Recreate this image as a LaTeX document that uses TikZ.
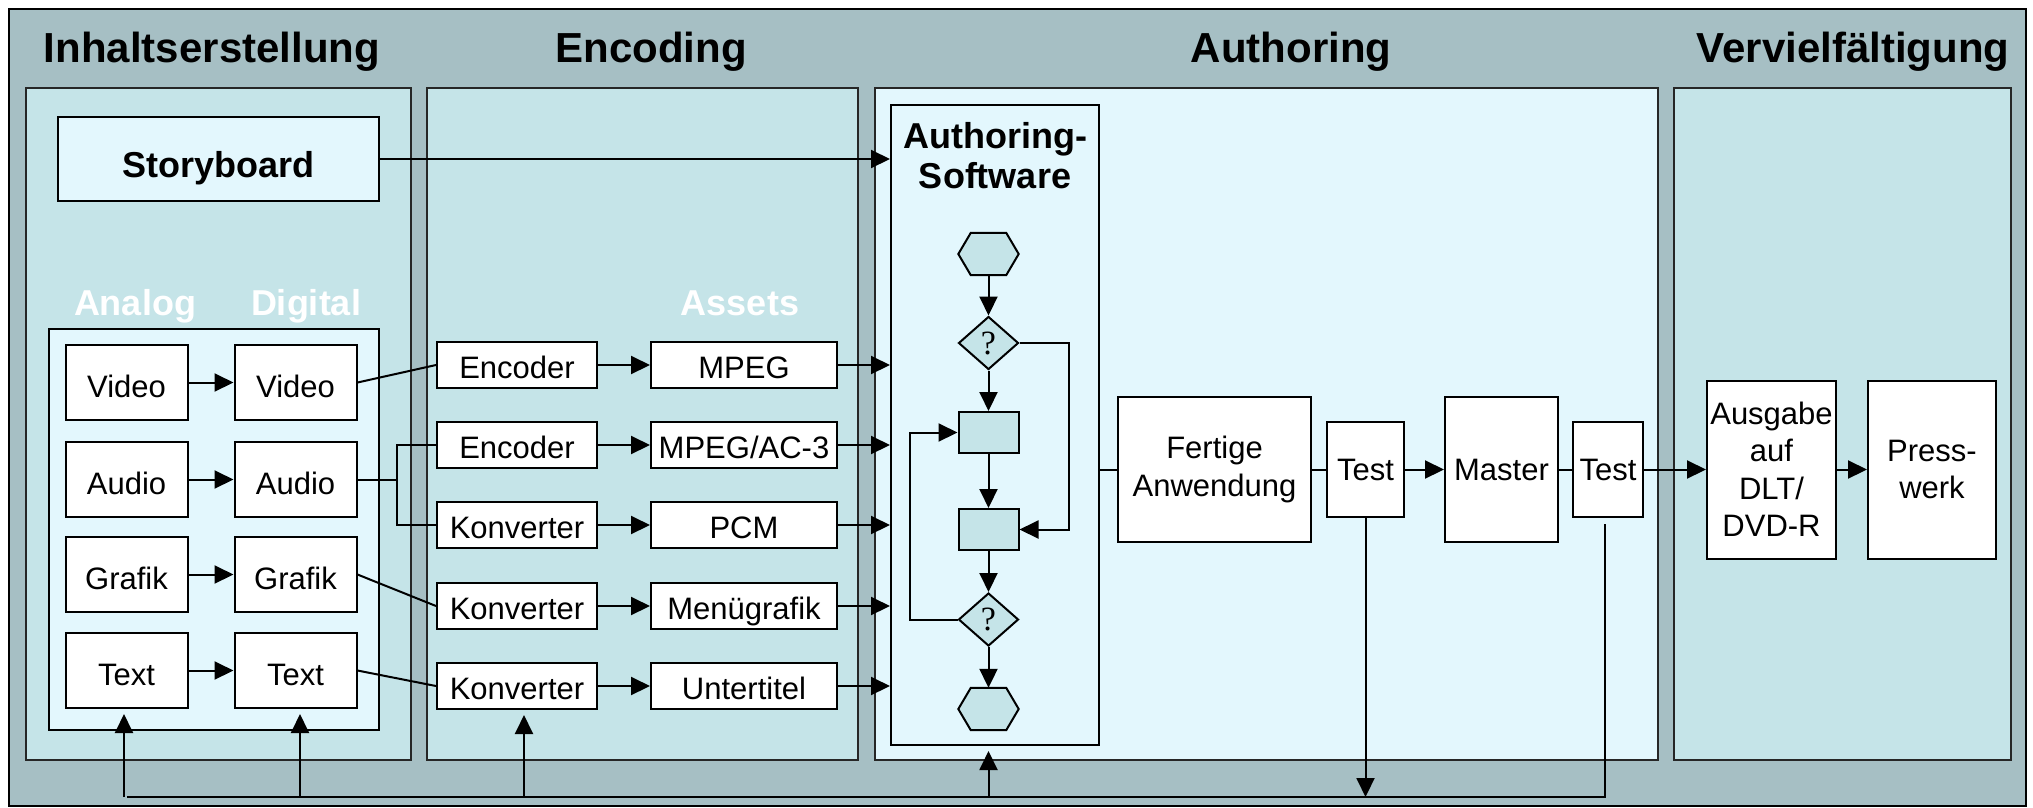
\documentclass[tikz,border=0pt]{standalone}
\usepackage{fontspec}
\setmainfont{Liberation Sans}
\newfontfamily\qfont{Liberation Serif}
\usetikzlibrary{arrows.meta,shapes.geometric,calc}
\definecolor{outerbg}{HTML}{A6BFC4}
\definecolor{panelbg}{HTML}{C5E4E8}
\definecolor{lightbg}{HTML}{E3F7FD}
\begin{document}
\begin{tikzpicture}[x=1pt,y=-1pt,
 ln/.style={line width=2pt, draw=black},
 arr/.style={ln, -{Triangle[length=19pt,width=18pt]}},
 box/.style={draw=black, line width=2pt, fill=white, inner sep=0pt, align=center, font=\fontsize{31}{37.5}\selectfont},
 one/.style={text height=22.2pt, text depth=0pt},
 flowbox/.style={draw=black, line width=2pt, fill=panelbg, inner sep=0pt, minimum width=60pt, minimum height=41pt},
 dia/.style={diamond, draw=black, line width=2pt, fill=panelbg, inner sep=0pt, minimum width=60pt, minimum height=53pt, font=\qfont\fontsize{34}{34}\selectfont},
 hexc/.style={inner sep=0pt, minimum width=60pt, minimum height=42pt},
 hexpath/.style={draw=black, line width=2pt, fill=panelbg, line join=miter},
 title/.style={font=\bfseries\fontsize{42}{50}\selectfont, anchor=base, inner sep=0pt},
 sub/.style={font=\bfseries\fontsize{36}{40}\selectfont, inner sep=0pt, align=center},
 panel/.style={draw=black!85, line width=2pt, fill=panelbg},
 lbl/.style={font=\fontsize{31}{37.5}\selectfont, inner sep=0pt, anchor=base},
 ana/.style={box, one, minimum width=122pt, minimum height=75pt},
 enc/.style={box, one, minimum width=160pt, minimum height=46pt},
 ast/.style={box, one, minimum width=186pt, minimum height=46pt},
]
\useasboundingbox (0,0) rectangle (2033,807);
\fill[white] (0,0) rectangle (2033,807);
\draw[ln, fill=outerbg] (9,9) rectangle (2026,806);

% titles
\node[title] (tInh) at (212,62) {Inhaltserstellung};
\node[title] (tEnc) at (651,62) {Encoding};
\node[title] (tAut) at (1291,62) {Authoring};
\node[title] (tVer) at (1853,62) {Vervielfältigung};

% panels
\draw[panel] (26,88) rectangle (411,760);
\draw[panel] (427,88) rectangle (858,760);
\draw[panel, fill=lightbg] (875,88) rectangle (1658,760);
\draw[panel] (1674,88) rectangle (2011,760);
\draw[ln, fill=lightbg] (49,329) rectangle (379,730);

% storyboard
\node[box, fill=lightbg, minimum width=321pt, minimum height=84pt] (sb) at (218.5,159) {};
\node[font=\bfseries\fontsize{36}{40}\selectfont, inner sep=0pt, anchor=base] (sbl) at (218.5,177) {Storyboard};

% white labels
\node[sub, text=white, anchor=base] (lAna) at (135,315) {Analog};
\node[sub, text=white, anchor=base] (lDig) at (306,315) {Digital};
\node[sub, text=white, anchor=base] (lAss) at (740,315) {Assets};

% analog / digital
\node[ana] (av) at (126.5,382.5) {};
\node[ana] (aa) at (126.5,479.5) {};
\node[ana] (ag) at (126.5,574.5) {};
\node[ana] (at) at (126.5,670.5) {};
\node[ana] (dv) at (295.5,382.5) {};
\node[ana] (da) at (295.5,479.5) {};
\node[ana] (dg) at (295.5,574.5) {};
\node[ana] (dt) at (295.5,670.5) {};
\foreach \n/\t in {av/Video,aa/Audio,ag/Grafik,at/Text,dv/Video,da/Audio,dg/Grafik,dt/Text}
  \node[lbl] at ($(\n.center)+(0,14.5)$) {\t};

% encoding
\node[enc] (e1) at (517,365) {};
\node[enc] (e2) at (517,445) {};
\node[enc] (k1) at (517,525) {};
\node[enc] (k2) at (517,606) {};
\node[enc] (k3) at (517,686) {};
% assets
\node[ast] (s1) at (744,365) {};
\node[ast] (s2) at (744,445) {};
\node[ast] (s3) at (744,525) {};
\node[ast] (s4) at (744,606) {};
\node[ast] (s5) at (744,686) {};
\foreach \n/\t in {e1/Encoder,e2/Encoder,k1/Konverter,k2/Konverter,k3/Konverter,s1/MPEG,s2/MPEG\slash AC-3,s3/PCM,s4/Menügrafik,s5/Untertitel}
  \node[lbl] at ($(\n.center)+(0,13)$) {\t};

% authoring software
\node[draw=black, line width=2pt, fill=lightbg, minimum width=208pt, minimum height=640pt, inner sep=0pt] (asw) at (995,425) {};
\node[sub, anchor=base] (asl) at (995,148) {Authoring-};
\node[sub, anchor=base] (asl2) at (995,188) {Software};

% flowchart
\node[hexc] (hx1) at (988.5,254) {};
\node[dia] (d1) at (988.5,343) {?};
\node[flowbox] (q1) at (988.5,432.5) {};
\node[flowbox] (q2) at (988.5,529.5) {};
\node[dia] (d2) at (988.5,619.5) {?};
\node[hexc] (hx2) at (988.5,709) {};
\foreach \h in {hx1,hx2}
  \draw[hexpath] (\h.west) -- ($(\h.north west)+(12.5,0)$) -- ($(\h.north east)+(-12.5,0)$) -- (\h.east) -- ($(\h.south east)+(-12.5,0)$) -- ($(\h.south west)+(12.5,0)$) -- cycle;

% right chain
\node[box, minimum width=193pt, minimum height=145pt] (fa) at (1214.5,469.5) {Fertige\\Anwendung};
\node[box, one, minimum width=77pt, minimum height=95pt] (t1) at (1365.5,469.5) {Test};
\node[box, one, minimum width=113pt, minimum height=145pt] (ms) at (1501.5,469.5) {Master};
\node[box, one, minimum width=70pt, minimum height=95pt] (t2) at (1608,469.5) {Test};
\node[box, minimum width=129pt, minimum height=178pt] (ag2) at (1771.5,469.5) {Ausgabe\\auf\\DLT/\\DVD-R};
\node[box, minimum width=128pt, minimum height=178pt] (pw) at (1932,469.5) {Press-\\werk};

% connectors: analog -> digital
\foreach \a/\d in {av/dv,aa/da,ag/dg,at/dt} \draw[arr] (\a) -- (\d);
% digital -> encoding
\draw[ln] (dv.east) -- (e1.west);
\coordinate (aj) at (397,479.5);
\draw[ln] (da.east) -- (aj);
\draw[ln] (e2.west) -| (aj);
\draw[ln] (k1.west) -| (aj);
\draw[ln] (dg.east) -- (k2.west);
\draw[ln] (dt.east) -- (k3.west);
% encoding -> assets
\foreach \e/\s in {e1/s1,e2/s2,k1/s3,k2/s4,k3/s5} \draw[arr] (\e) -- (\s);
% assets -> authoring software
\foreach \s in {s1,s2,s3,s4,s5} \draw[arr] (\s.east) -- (\s.east -| asw.west);
\draw[arr] (sb.east) -- (sb.east -| asw.west);

% flowchart connectors
\draw[arr] (hx1.south) -- (d1.north);
\draw[arr] (d1) -- (q1);
\draw[arr] (q1) -- (q2);
\draw[arr] (q2) -- (d2);
\draw[arr] (d2.south) -- (hx2.north);
\draw[arr] (d1.east) -- ++(49,0) |- (q2.east);
\draw[arr] (d2.west) -- ++(-48,0) |- (q1.west);

% right chain connectors
\draw[ln] (fa.west -| asw.east) -- (fa.west);
\draw[ln] (fa) -- (t1);
\draw[arr] (t1) -- (ms);
\draw[ln] (ms) -- (t2);
\draw[arr] (t2) -- (ag2);
\draw[arr] (ag2) -- (pw);

% feedback
\coordinate (fb) at (0,797);
\coordinate (t2b) at ($(t2.south)+(-3,6)$);
\draw[ln] (t2b) -- (t2b |- fb) -- (at.south |- fb);
\draw[arr] (t1.south) -- (t1.south |- fb);
\coordinate (atu) at ($(at.south)+(-2.5,0)$);
\coordinate (dtu) at ($(dt.south)+(4.5,0)$);
\coordinate (k3u) at ($(k3.south)+(7,0)$);
\coordinate (aswu) at (hx2.south |- asw.south);
\foreach \n in {atu,dtu,k3u,aswu} \draw[arr, shorten >=5pt] (\n |- fb) -- (\n);
\end{tikzpicture}
\end{document}
